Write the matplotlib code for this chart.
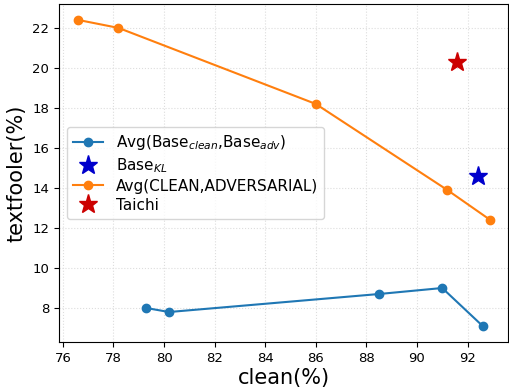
import matplotlib
matplotlib.use("Agg")
import matplotlib.pyplot as plt

avg_base_clean = [79.3, 80.2, 88.5, 91.0, 92.6]
avg_base_tf = [8.0, 7.8, 8.7, 9.0, 7.1]
avg_ca_clean = [76.6, 78.2, 86.0, 91.2, 92.9]
avg_ca_tf = [22.4, 22.0, 18.2, 13.9, 12.4]
base_kl = (92.4, 14.6)
taichi = (91.6, 20.3)

fig = plt.figure(figsize=(5.09, 3.90), dpi=100)
ax = fig.add_axes([0.116, 0.123, 0.882, 0.867])
ax.plot(avg_base_clean, avg_base_tf, marker='o', color='#1f77b4', markersize=6,
        label=r'Avg(Base$_{clean}$,Base$_{adv}$)')
ax.plot([base_kl[0]], [base_kl[1]], linestyle='none', marker='*', color='#0000cc',
        markersize=14, label=r'Base$_{KL}$')
ax.plot(avg_ca_clean, avg_ca_tf, marker='o', color='#ff7f0e', markersize=6,
        label='Avg(CLEAN,ADVERSARIAL)')
ax.plot([taichi[0]], [taichi[1]], linestyle='none', marker='*', color='#cc0000',
        markersize=14, label='Taichi')
ax.set_xlim(75.85, 93.6)
ax.set_ylim(6.3, 23.2)
ax.set_xticks(range(76, 93, 2))
ax.set_yticks(range(8, 23, 2))
ax.grid(True, linestyle=':', color='#dddddd', linewidth=0.8)
ax.set_xlabel('clean(%)', fontsize=15, labelpad=2)
ax.set_ylabel('textfooler(%)', fontsize=15, labelpad=4)
ax.tick_params(labelsize=9.5)
ax.legend(loc='center left', bbox_to_anchor=(0.0, 0.5), fontsize=11,
          handlelength=2.0, labelspacing=0.25, borderaxespad=0.5)
fig.savefig('out.png', dpi=100)
